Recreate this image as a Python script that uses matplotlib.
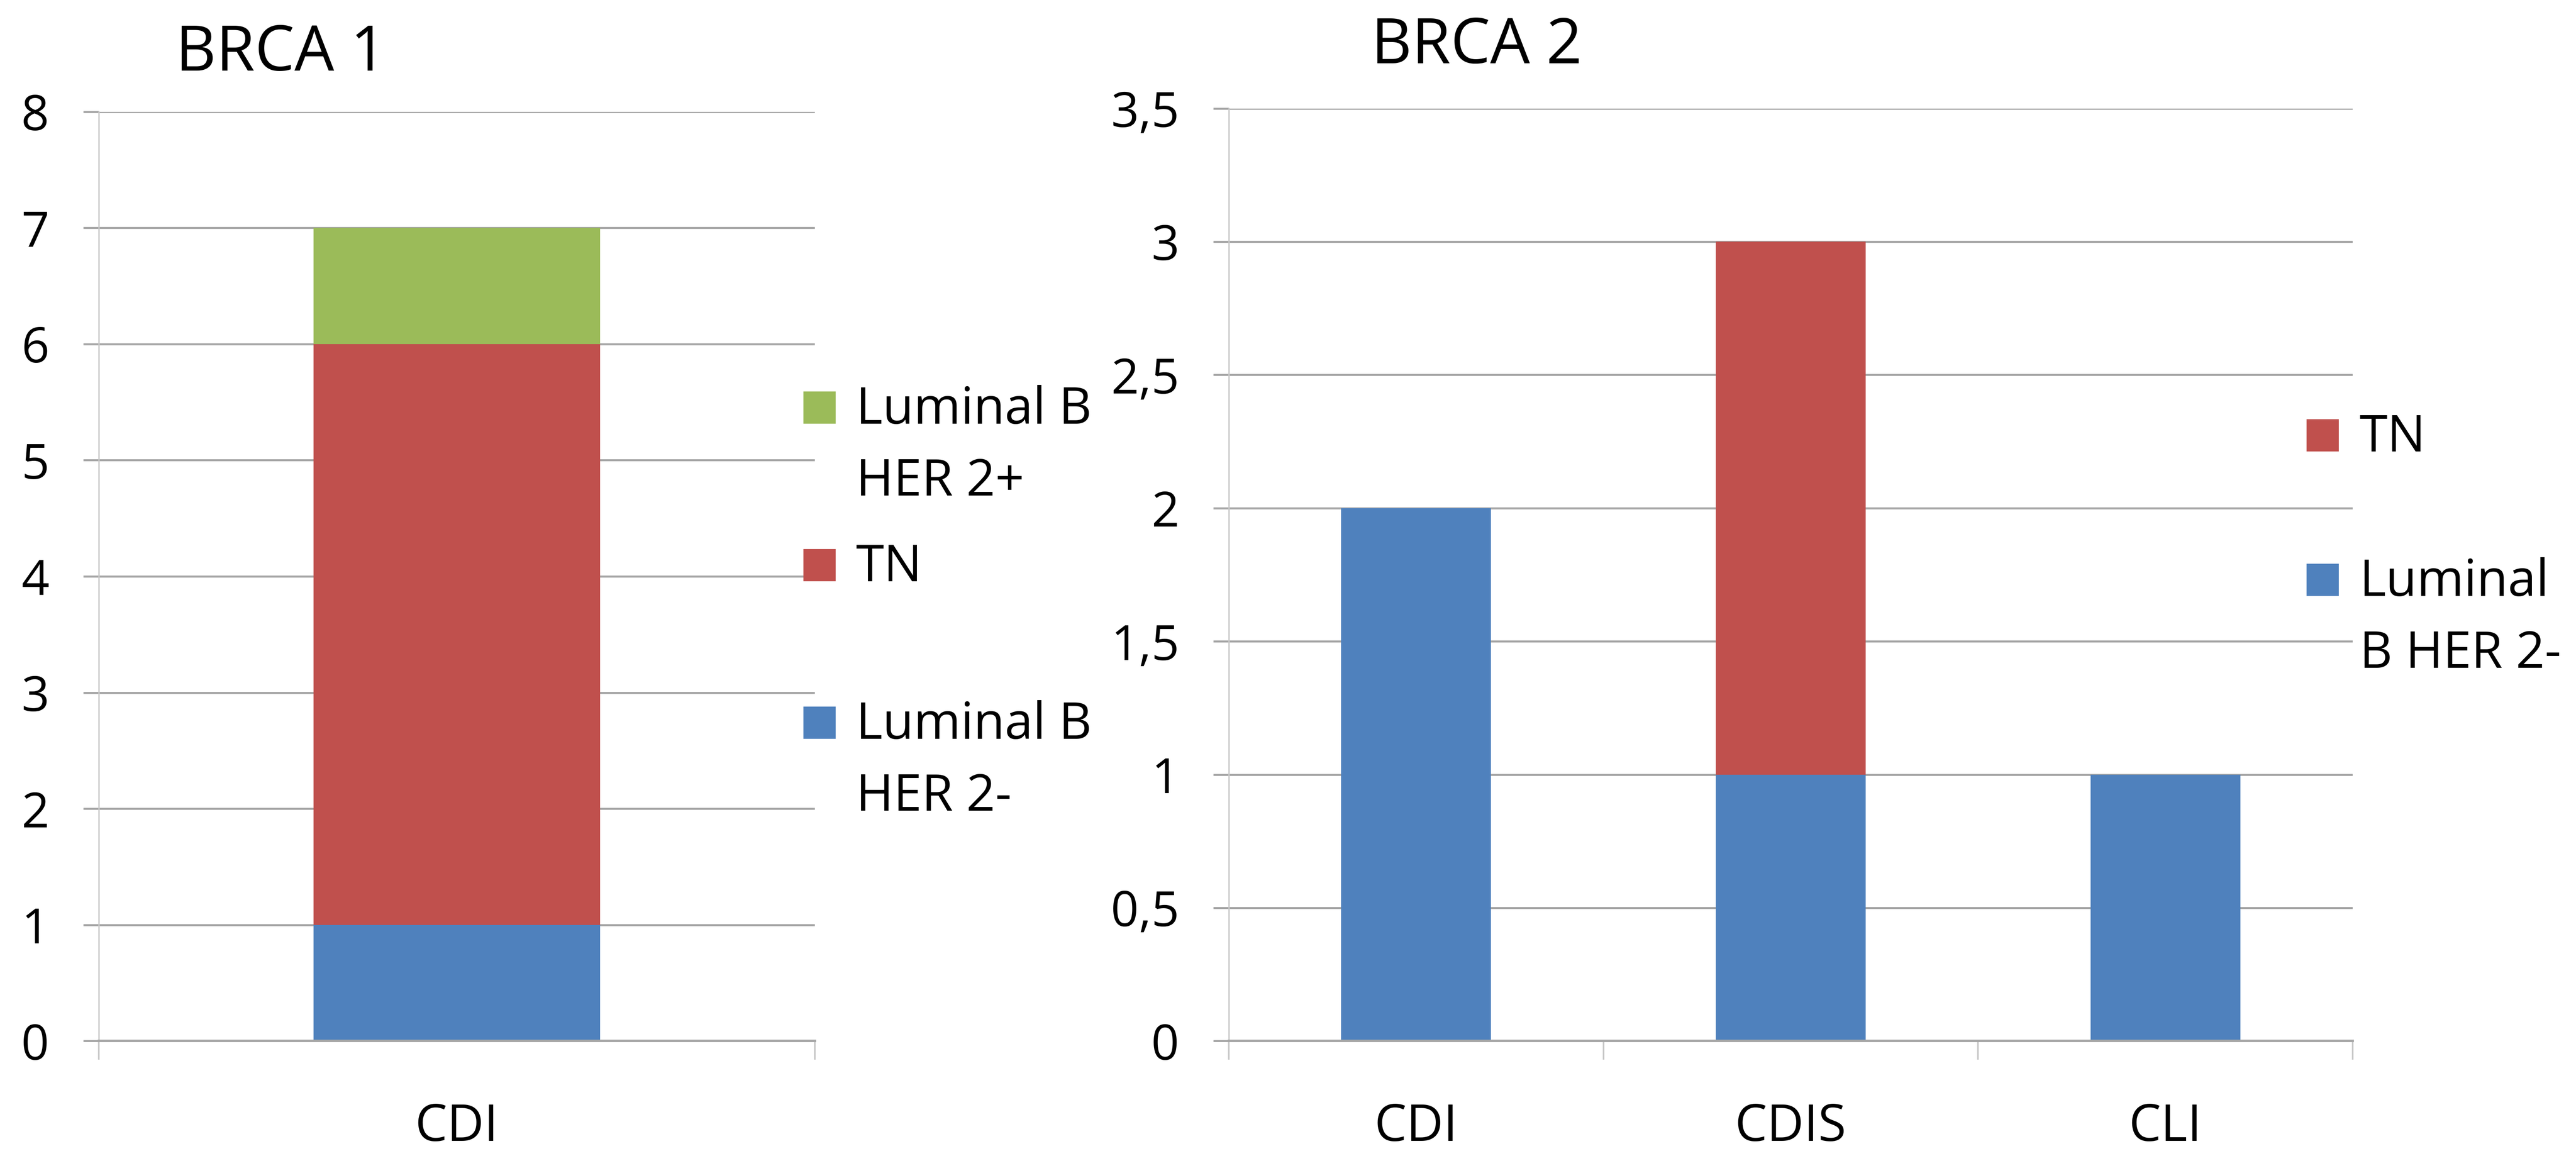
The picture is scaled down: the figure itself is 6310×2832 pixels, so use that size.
import matplotlib
matplotlib.use("Agg")
import matplotlib.pyplot as plt
from matplotlib.patches import Rectangle
from matplotlib.ticker import FuncFormatter, FixedLocator, MultipleLocator

plt.rcParams['font.family'] = ['Open Sans', 'DejaVu Sans']

# data
brca1_categories = ["CDI"]
brca1_lumb_her2neg = [1]
brca1_tn = [5]
brca1_lumb_her2pos = [1]

brca2_categories = ["CDI", "CDIS", "CLI"]
brca2_lumb_her2neg = [2, 1, 1]
brca2_tn = [0, 2, 0]

BLUE = "#4F81BD"
RED = "#C0504D"
GREEN = "#9BBB59"
GRID = "#A6A6A6"
LIGHT = "#C8C8C8"


def comma(v, pos):
    s = ("%g" % v)
    return s.replace(".", ",")


def style_axes(ax, ncat, ymax, ystep):
    ax.set_xlim(-0.5, ncat - 0.5)
    ax.set_ylim(0, ymax)
    ax.yaxis.set_major_locator(MultipleLocator(ystep))
    ax.yaxis.set_major_formatter(FuncFormatter(comma))
    ax.set_axisbelow(True)
    ax.yaxis.grid(True, color=GRID, lw=0.9)
    for s in ("top", "right"):
        ax.spines[s].set_visible(False)
    ax.spines["left"].set_color(LIGHT)
    ax.spines["left"].set_linewidth(0.6)
    ax.spines["bottom"].set_color(GRID)
    ax.spines["bottom"].set_linewidth(1.1)
    ax.tick_params(axis="y", length=6.8, width=0.9, color=GRID, pad=15,
                   labelsize=21.5)
    ax.tick_params(axis="x", which="major", length=0, pad=27, labelsize=22.5)
    ax.xaxis.set_minor_locator(FixedLocator([i - 0.5 for i in range(ncat + 1)]))
    ax.tick_params(axis="x", which="minor", length=8.3, width=0.7, color=LIGHT)


def draw_legend(fig, x, ys, labels, colors):
    # square bottom sits on the baseline of the first label line
    sw = 79 / 6310
    sh = 79 / 2832
    dy = 176 / 2832
    for y, lab, c in zip(ys, labels, colors):
        fig.patches.append(Rectangle((x, y), sw, sh, facecolor=c, edgecolor="none",
                                     transform=fig.transFigure, figure=fig))
        for i, line in enumerate(lab.split("\n")):
            fig.text(x + sw + 0.008, y - i * dy, line, fontsize=22.4,
                     ha="left", va="baseline")


fig = plt.figure(figsize=(15.775, 7.08), dpi=400)

# BRCA 1
ax1 = fig.add_axes([0.0383, 0.0994, 0.2780, 0.8040])
x1 = range(len(brca1_categories))
ax1.bar(x1, brca1_lumb_her2neg, 0.4, color=BLUE)
ax1.bar(x1, brca1_tn, 0.4, bottom=brca1_lumb_her2neg, color=RED)
base = [a + b for a, b in zip(brca1_lumb_her2neg, brca1_tn)]
ax1.bar(x1, brca1_lumb_her2pos, 0.4, bottom=base, color=GREEN)
ax1.set_xticks(list(x1))
ax1.set_xticklabels(brca1_categories)
style_axes(ax1, len(brca1_categories), 8, 1)

# BRCA 2
ax2 = fig.add_axes([0.4770, 0.0994, 0.4363, 0.8068])
x2 = range(len(brca2_categories))
ax2.bar(x2, brca2_lumb_her2neg, 0.4, color=BLUE)
ax2.bar(x2, brca2_tn, 0.4, bottom=brca2_lumb_her2neg, color=RED)
ax2.set_xticks(list(x2))
ax2.set_xticklabels(brca2_categories)
style_axes(ax2, len(brca2_categories), 3.5, 0.5)

fig.text(0.0682, 0.9389, "BRCA 1", fontsize=27.7, ha="left", va="baseline")
fig.text(0.5323, 0.9452, "BRCA 2", fontsize=27.7, ha="left", va="baseline")

draw_legend(fig, 489 / 1568, [1 - 258 / 704, 1 - 354 / 704, 1 - 450 / 704],
            ["Luminal B\nHER 2+", "TN", "Luminal B\nHER 2-"],
            [GREEN, RED, BLUE])
draw_legend(fig, 1404 / 1568, [1 - 275 / 704, 1 - 363 / 704],
            ["TN", "Luminal\nB HER 2-"],
            [RED, BLUE])

fig.savefig("out.png", dpi=400)
